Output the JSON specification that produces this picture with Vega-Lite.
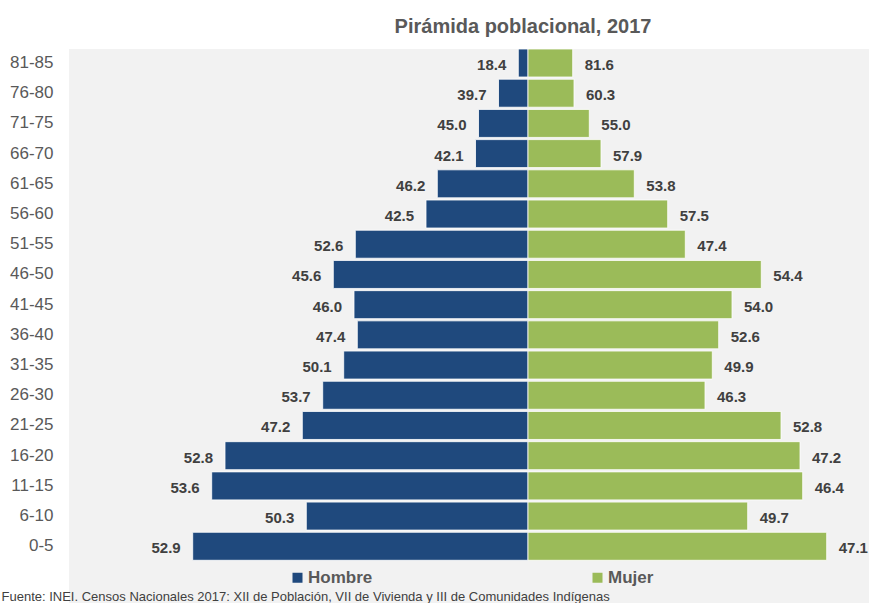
{
  "$schema": "https://vega.github.io/schema/vega-lite/v6.json",
  "width": 800,
  "height": 554,
  "autosize": {"type": "none"},
  "padding": {"left": 69, "top": 49, "right": 0, "bottom": 0},
  "background": "#ffffff",
  "title": {
    "text": "Pirámida poblacional, 2017",
    "fontSize": 20,
    "fontWeight": "bold",
    "color": "#595959",
    "font": "Liberation Sans",
    "frame": "group",
    "anchor": "middle",
    "dx": 54,
    "dy": 24,
    "offset": 16,
    "baseline": "bottom"
  },
  "datasets": {
    "hombre": [
      {"edad": "81-85", "sexo": "Hombre", "poblacion": 9.7, "porcentaje": 18.4},
      {"edad": "76-80", "sexo": "Hombre", "poblacion": 29.5, "porcentaje": 39.7},
      {"edad": "71-75", "sexo": "Hombre", "poblacion": 49.5, "porcentaje": 45.0},
      {"edad": "66-70", "sexo": "Hombre", "poblacion": 52.5, "porcentaje": 42.1},
      {"edad": "61-65", "sexo": "Hombre", "poblacion": 90.7, "porcentaje": 46.2},
      {"edad": "56-60", "sexo": "Hombre", "poblacion": 102, "porcentaje": 42.5},
      {"edad": "51-55", "sexo": "Hombre", "poblacion": 172.7, "porcentaje": 52.6},
      {"edad": "46-50", "sexo": "Hombre", "poblacion": 194.7, "porcentaje": 45.6},
      {"edad": "41-45", "sexo": "Hombre", "poblacion": 174, "porcentaje": 46.0},
      {"edad": "36-40", "sexo": "Hombre", "poblacion": 170.7, "porcentaje": 47.4},
      {"edad": "31-35", "sexo": "Hombre", "poblacion": 184.3, "porcentaje": 50.1},
      {"edad": "26-30", "sexo": "Hombre", "poblacion": 205.3, "porcentaje": 53.7},
      {"edad": "21-25", "sexo": "Hombre", "poblacion": 225.7, "porcentaje": 47.2},
      {"edad": "16-20", "sexo": "Hombre", "poblacion": 303, "porcentaje": 52.8},
      {"edad": "11-15", "sexo": "Hombre", "poblacion": 316.3, "porcentaje": 53.6},
      {"edad": "6-10", "sexo": "Hombre", "poblacion": 221.7, "porcentaje": 50.3},
      {"edad": "0-5", "sexo": "Hombre", "poblacion": 335.3, "porcentaje": 52.9}
    ],
    "mujer": [
      {"edad": "81-85", "sexo": "Mujer", "poblacion": 44.7, "porcentaje": 81.6},
      {"edad": "76-80", "sexo": "Mujer", "poblacion": 46, "porcentaje": 60.3},
      {"edad": "71-75", "sexo": "Mujer", "poblacion": 61.3, "porcentaje": 55.0},
      {"edad": "66-70", "sexo": "Mujer", "poblacion": 73, "porcentaje": 57.9},
      {"edad": "61-65", "sexo": "Mujer", "poblacion": 106.3, "porcentaje": 53.8},
      {"edad": "56-60", "sexo": "Mujer", "poblacion": 139.7, "porcentaje": 57.5},
      {"edad": "51-55", "sexo": "Mujer", "poblacion": 157.3, "porcentaje": 47.4},
      {"edad": "46-50", "sexo": "Mujer", "poblacion": 233.3, "porcentaje": 54.4},
      {"edad": "41-45", "sexo": "Mujer", "poblacion": 204, "porcentaje": 54.0},
      {"edad": "36-40", "sexo": "Mujer", "poblacion": 190.7, "porcentaje": 52.6},
      {"edad": "31-35", "sexo": "Mujer", "poblacion": 184.3, "porcentaje": 49.9},
      {"edad": "26-30", "sexo": "Mujer", "poblacion": 177, "porcentaje": 46.3},
      {"edad": "21-25", "sexo": "Mujer", "poblacion": 253, "porcentaje": 52.8},
      {"edad": "16-20", "sexo": "Mujer", "poblacion": 272, "porcentaje": 47.2},
      {"edad": "11-15", "sexo": "Mujer", "poblacion": 274.7, "porcentaje": 46.4},
      {"edad": "6-10", "sexo": "Mujer", "poblacion": 219.7, "porcentaje": 49.7},
      {"edad": "0-5", "sexo": "Mujer", "poblacion": 298.7, "porcentaje": 47.1}
    ]
  },
  "encoding": {
    "y": {
      "field": "edad",
      "type": "nominal",
      "sort": ["81-85", "76-80", "71-75", "66-70", "61-65", "56-60", "51-55", "46-50", "41-45", "36-40", "31-35", "26-30", "21-25", "16-20", "11-15", "6-10", "0-5"],
      "scale": {"paddingInner": 0.073, "paddingOuter": 0.707, "align": 0},
      "axis": {
        "title": null,
        "ticks": false,
        "domain": false,
        "grid": false,
        "labelPadding": 16,
        "labelFontSize": 17,
        "labelFont": "Liberation Sans",
        "labelColor": "#595959"
      }
    },
    "color": {
      "field": "sexo",
      "type": "nominal",
      "scale": {"domain": ["Hombre", "Mujer"], "range": ["#1f497d", "#9bbb59"]},
      "legend": {
        "title": null,
        "orient": "none",
        "direction": "horizontal",
        "columns": 2,
        "legendX": 220,
        "legendY": 520,
        "padding": 0,
        "columnPadding": 216,
        "symbolType": "square",
        "symbolSize": 100,
        "symbolStrokeWidth": 0,
        "symbolOpacity": 1,
        "labelOffset": 2,
        "labelFontSize": 17,
        "labelFont": "Liberation Sans",
        "labelFontWeight": "bold",
        "labelColor": "#595959",
        "labelBaseline": "middle"
      }
    }
  },
  "layer": [
    {
      "data": {"name": "hombre"},
      "encoding": {
        "x": {
          "field": "poblacion",
          "type": "quantitative",
          "scale": {"domain": [-341, 459], "reverse": true, "nice": false, "zero": false},
          "axis": null
        }
      },
      "layer": [
        {"mark": {"type": "bar", "stroke": "#ffffff", "strokeWidth": 0.8, "opacity": 1}},
        {
          "mark": {"type": "text", "align": "right", "baseline": "middle", "dx": -12, "dy": 2, "fontSize": 15, "fontWeight": "bold", "font": "Liberation Sans"},
          "encoding": {
            "text": {"field": "porcentaje", "type": "quantitative", "format": ".1f"},
            "color": {"value": "#404040"}
          }
        }
      ]
    },
    {
      "data": {"name": "mujer"},
      "encoding": {
        "x": {
          "field": "poblacion",
          "type": "quantitative",
          "scale": {"domain": [-459, 341], "nice": false, "zero": false},
          "axis": {
            "title": "Fuente: INEI. Censos Nacionales 2017: XII de Población, VII de Vivienda y III de Comunidades Indígenas",
            "labels": false,
            "ticks": false,
            "domain": false,
            "grid": false,
            "titleFont": "Liberation Sans",
            "titleFontSize": 13,
            "titleFontWeight": "normal",
            "titleColor": "#404040",
            "titleAnchor": "start",
            "titleAlign": "left",
            "titleBaseline": "alphabetic",
            "titleX": -68,
            "titleY": -3
          }
        }
      },
      "layer": [
        {"mark": {"type": "bar", "stroke": "#ffffff", "strokeWidth": 0.8, "opacity": 1}},
        {
          "mark": {"type": "text", "align": "left", "baseline": "middle", "dx": 12, "dy": 2, "fontSize": 15, "fontWeight": "bold", "font": "Liberation Sans"},
          "encoding": {
            "text": {"field": "porcentaje", "type": "quantitative", "format": ".1f"},
            "color": {"value": "#404040"}
          }
        }
      ]
    }
  ],
  "resolve": {"scale": {"x": "independent"}, "axis": {"x": "independent"}},
  "config": {
    "view": {"fill": "#f2f2f2", "stroke": null},
    "font": "Liberation Sans"
  }
}
